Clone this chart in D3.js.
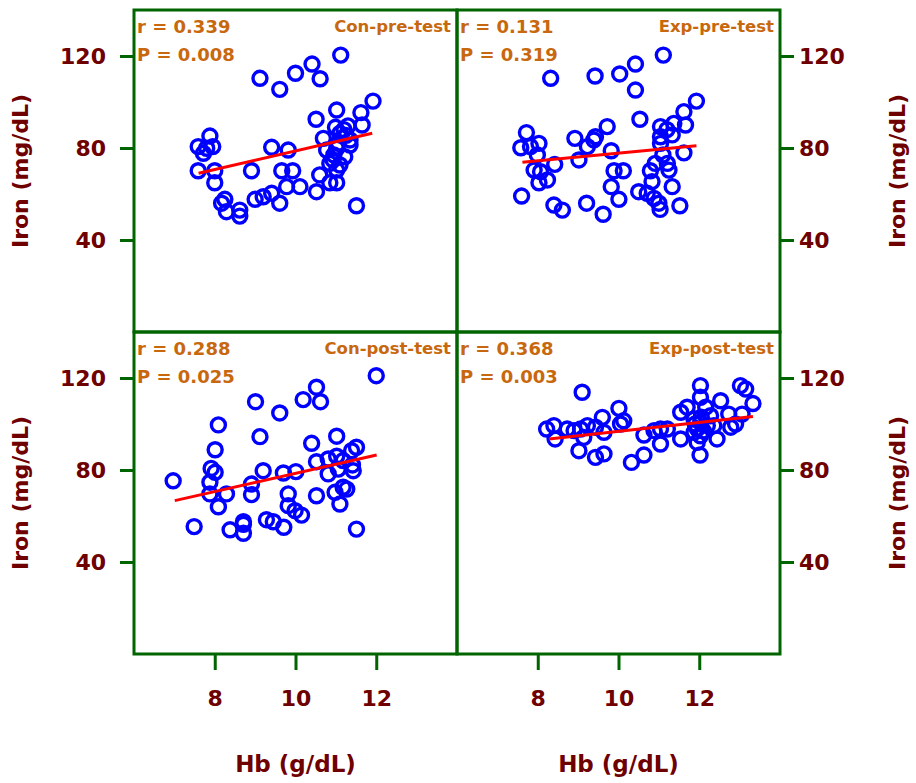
<!DOCTYPE html>
<html lang="en">
<head>
<meta charset="UTF-8">
<title>Hb vs Iron</title>
<script src="https://d3js.org/d3.v7.min.js"></script>
<style>
  body { margin: 0; background: #fff; }
  text { font-family: "Comic Sans MS", "DejaVu Sans", sans-serif; font-weight: bold; }
</style>
</head>
<body>
<svg width="916" height="783"></svg>
<script>
// data: [Hb (g/dL), Iron (mg/dL)]
const conPre = [
  [9.12,110.3],[9.61,105.5],[10.0,112.5],[10.41,116.5],[10.61,110.1],[11.12,120.4],
  [11.92,100.4],[11.02,96.5],[11.62,95.4],[10.51,92.5],[11.65,90],[11.3,89.6],
  [10.99,89],[11.1,86.4],[11.35,83.5],[10.69,84.2],[7.88,85.2],[7.59,80.6],
  [7.8,79.9],[7.95,80.6],[7.72,77.7],[9.41,80.3],[9.82,79.1],[10.77,79.1],
  [11.35,81.3],[11.02,79.9],[11.22,76.2],[10.93,74.8],[10.85,73.3],[11.1,72.6],
  [11.02,70.4],[7.59,70.1],[8.0,70.1],[8.91,70.1],[9.66,70.1],[9.93,70.1],
  [8.0,64.9],[10.6,68.3],[10.85,64.9],[11.02,64.9],[9.78,63.2],[10.11,63.2],
  [10.52,61],[9.0,57.7],[9.2,58.8],[9.41,60.3],[9.61,56],[8.25,57.7],
  [8.17,56],[8.29,52.3],[8.62,53],[8.62,50.4],[11.51,54.9],[11.2,88],
  [11.05,82],[11.25,85.5],[10.95,77]
];
const expPre = [
  [8.32,110.3],[9.42,111.3],[10.03,112.2],[10.42,116.5],[10.42,105.2],[11.11,120.4],
  [11.93,100.4],[11.62,95.8],[11.66,90],[11.37,90.7],[11.04,89.3],[11.33,85.7],
  [11.04,84.9],[11.04,82],[10.53,92.5],[9.72,89.3],[9.43,84.9],[9.39,83.5],
  [8.92,84.2],[9.23,80.6],[9.82,78.8],[7.72,86.7],[7.58,80.1],[7.82,80.6],
  [8.03,82],[7.99,77],[9.02,74.8],[8.42,72.9],[7.91,70.4],[8.07,69.7],
  [8.03,64.9],[8.24,66.1],[9.89,70.1],[10.12,70.1],[9.82,63.2],[10.01,57.7],
  [9.21,56],[9.62,51.2],[8.4,55.2],[8.61,53],[7.6,59.1],[10.5,61],
  [10.71,60.3],[10.88,58.1],[11.0,56],[11.03,53.3],[10.79,70.1],[10.83,65.4],
  [11.21,73.3],[11.25,70.4],[11.33,63.2],[11.52,54.9],[11.62,77.9],[10.91,73.3],
  [11.2,88],[11.1,77]
];
const conPost = [
  [12.0,121],[10.52,116],[10.19,110.6],[10.62,109.7],[9.01,109.7],[9.61,104.8],
  [8.09,99.6],[9.12,94.5],[10.4,91.6],[11.02,94.7],[8.01,88.8],[11.51,89.9],
  [11.39,88.4],[10.52,83.6],[10.81,84.8],[11.02,86],[11.18,84.1],[11.41,82.2],
  [11.43,79.7],[10.81,78.3],[11.06,80.4],[7.91,80.7],[8.01,79],[7.88,74.7],
  [6.97,75.3],[9.2,79.7],[9.7,78.7],[10.01,79.3],[8.91,73.9],[8.91,69.3],
  [8.29,69.6],[7.88,69.6],[8.09,64],[9.82,69.6],[10.52,68.8],[10.98,70.3],
  [11.18,72.5],[11.27,71.7],[11.1,65.2],[9.82,64.5],[9.99,62.3],[10.15,60.4],
  [9.28,58.4],[9.45,57.5],[9.71,55.1],[8.71,57.5],[8.71,56.4],[8.71,52.5],
  [8.38,54],[7.49,55.4],[11.51,54.3]
];
const expPost = [
  [9.1,113.8],[8.22,97.8],[8.4,99.3],[8.43,93.5],[8.73,97.8],[8.9,97.1],
  [9.06,97.8],[9.23,99.3],[9.43,98.6],[9.6,102.9],[9.64,96.4],[9.14,94.2],
  [9.02,88.4],[9.43,85.5],[9.64,87],[10.01,106.8],[10.05,100],[10.13,101.4],
  [10.32,83.3],[10.63,86.5],[10.63,95.2],[10.88,97.1],[11.04,97.8],[11.21,97.8],
  [11.04,91.3],[11.54,93.5],[11.54,105.1],[11.7,107.3],[12.03,116.7],[12.03,111.6],
  [12.16,107.3],[11.87,102.2],[12.03,100.7],[12.2,99.3],[11.87,96.4],[12.03,94.9],
  [11.95,92],[12.02,86.5],[12.44,93.5],[12.53,110.1],[12.73,104.3],[12.78,98.6],
  [12.9,100],[13.02,116.7],[13.15,115.2],[13.06,104.3],[13.33,108.9],[12.36,99.3],
  [12.28,103.6],[11.95,98],[12.1,97],[11.9,100],[12.05,103]
];

// regression line end points [[x0, y0], [x1, y1]]
const fitLines = [
  [[7.6, 69], [11.9, 86.4]],
  [[7.62, 73.8], [11.93, 81]],
  [[7.01, 66.7], [12.01, 86.5]],
  [[8.28, 93.5], [13.33, 103.3]]
];
const panelNames = ["Con-pre-test", "Exp-pre-test", "Con-post-test", "Exp-post-test"];
const rValues = ["0.339", "0.131", "0.288", "0.368"];
const pValues = ["0.008", "0.319", "0.025", "0.003"];
const xTicks = [8, 10, 12];
const yTicks = [40, 80, 120];

const series = [conPre, expPre, conPost, expPost];

const maroon = "#6e0000", orange = "#c8680e", green = "#006400";

const svg = d3.select("svg");
svg.append("rect").attr("width", 916).attr("height", 783).attr("fill", "#fff");

const panelLeft = 134, panelTop = 10, pw = 323, ph = 322;

function styleAxis(ax) {
  ax.select(".domain").remove();
  ax.selectAll("line").attr("stroke", green).attr("stroke-width", 3);
  ax.selectAll("text").attr("fill", maroon).attr("font-size", 22)
    .attr("font-family", '"Comic Sans MS", "DejaVu Sans", sans-serif')
    .attr("font-weight", "bold");
}

for (let i = 0; i < 4; i++) {
  const col = i % 2, row = Math.floor(i / 2);
  const x0 = panelLeft + col * pw, y0 = panelTop + row * ph;

  const x = d3.scaleLinear().domain([6, 14]).range([x0, x0 + pw]);
  const y = d3.scaleLinear().domain([0, 140]).range([y0 + ph, y0]);

  const g = svg.append("g");

  // axes
  if (col === 0) {
    const ax = g.append("g")
      .attr("transform", `translate(${x0},0)`)
      .call(d3.axisLeft(y).tickValues(yTicks).tickSize(14).tickPadding(14));
    styleAxis(ax);
    g.append("text")
      .attr("transform", `translate(28,${y0 + ph / 2}) rotate(-90)`)
      .attr("text-anchor", "middle")
      .attr("fill", maroon).attr("font-size", 22)
      .text("Iron (mg/dL)");
  } else {
    const ax = g.append("g")
      .attr("transform", `translate(${x0 + pw},0)`)
      .call(d3.axisRight(y).tickValues(yTicks).tickSize(14).tickPadding(5));
    styleAxis(ax);
    g.append("text")
      .attr("transform", `translate(905,${y0 + ph / 2}) rotate(-90)`)
      .attr("text-anchor", "middle")
      .attr("fill", maroon).attr("font-size", 22)
      .text("Iron (mg/dL)");
  }
  if (row === 1) {
    const ax = g.append("g")
      .attr("transform", `translate(0,${y0 + ph})`)
      .call(d3.axisBottom(x).tickValues(xTicks).tickSize(16).tickPadding(20));
    styleAxis(ax);
    g.append("text")
      .attr("x", x0 + pw / 2).attr("y", 772)
      .attr("text-anchor", "middle")
      .attr("fill", maroon).attr("font-size", 23)
      .text("Hb (g/dL)");
  }

  // frame
  g.append("rect")
    .attr("x", x0).attr("y", y0).attr("width", pw).attr("height", ph)
    .attr("fill", "none").attr("stroke", green).attr("stroke-width", 3);

  // points
  g.selectAll("circle").data(series[i]).join("circle")
    .attr("cx", d => x(d[0])).attr("cy", d => y(d[1]))
    .attr("r", 7)
    .attr("fill", "none").attr("stroke", "#0000ff").attr("stroke-width", 3.4);

  // regression line
  g.append("line")
    .attr("x1", x(fitLines[i][0][0])).attr("y1", y(fitLines[i][0][1]))
    .attr("x2", x(fitLines[i][1][0])).attr("y2", y(fitLines[i][1][1]))
    .attr("stroke", "#ff0000").attr("stroke-width", 3);

  // annotations
  g.append("text").attr("x", x0 + 3).attr("y", y0 + 23)
    .attr("fill", orange).attr("font-size", 18)
    .text("r = " + rValues[i]);
  g.append("text").attr("x", x0 + 3).attr("y", y0 + 51)
    .attr("fill", orange).attr("font-size", 18)
    .text("P = " + pValues[i]);
  g.append("text").attr("x", x0 + pw - 6).attr("y", y0 + 22)
    .attr("text-anchor", "end")
    .attr("fill", orange).attr("font-size", 16.5)
    .text(panelNames[i]);
}
</script>
</body>
</html>
